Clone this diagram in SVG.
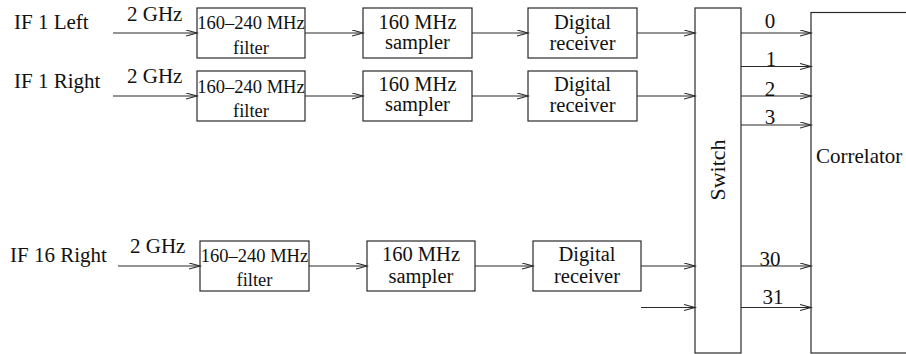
<svg xmlns="http://www.w3.org/2000/svg" width="906" height="354" viewBox="0 0 906 354">
  <style>
    .box { fill: #ffffff; stroke: #2a2a2a; stroke-width: 1.2; }
    .wire { fill: none; stroke: #2a2a2a; stroke-width: 1.2; marker-end: url(#arrow); }
    text { font-family: "Liberation Serif", "Times New Roman", serif; fill: #111; }
    .lbl { font-size: 21px; }
    .inbox { font-size: 20.5px; text-anchor: middle; }
    .small { font-size: 18.5px; text-anchor: middle; }
    .mid { text-anchor: middle; }
  </style>
  <defs>
    <marker id="arrow" markerUnits="userSpaceOnUse" markerWidth="14" markerHeight="8" refX="11" refY="3.5" orient="auto">
      <path d="M0,0.5 L11,3.5 L0,6.5" fill="none" stroke="#2a2a2a" stroke-width="1.1"/>
    </marker>
  </defs>

  <rect width="906" height="354" fill="#ffffff"/>

  <!-- input labels -->
  <g id="input-labels" class="lbl">
    <text x="14" y="29">IF 1 Left</text>
    <text x="127" y="20.5">2 GHz</text>
    <text x="14" y="88">IF 1 Right</text>
    <text x="127" y="82.5">2 GHz</text>
    <text x="10" y="262">IF 16 Right</text>
    <text x="130" y="253">2 GHz</text>
  </g>

  <!-- channel IF 1 Left -->
  <g id="filter-1l">
    <rect class="box" x="197" y="8" width="108" height="50"/>
    <text class="small" x="251" y="29">160–240 MHz</text>
    <text class="small" x="251" y="54">filter</text>
  </g>
  <g id="sampler-1l">
    <rect class="box" x="363" y="8" width="109" height="50"/>
    <text class="inbox" x="417.5" y="29">160 MHz</text>
    <text class="inbox" x="417.5" y="49">sampler</text>
  </g>
  <g id="receiver-1l">
    <rect class="box" x="528" y="8" width="109" height="50"/>
    <text class="inbox" x="582.5" y="29">Digital</text>
    <text class="inbox" x="582.5" y="50">receiver</text>
  </g>

  <!-- channel IF 1 Right -->
  <g id="filter-1r">
    <rect class="box" x="197" y="71" width="108" height="50"/>
    <text class="small" x="251" y="93">160–240 MHz</text>
    <text class="small" x="251" y="117">filter</text>
  </g>
  <g id="sampler-1r">
    <rect class="box" x="363" y="71" width="109" height="50"/>
    <text class="inbox" x="417.5" y="91">160 MHz</text>
    <text class="inbox" x="417.5" y="111">sampler</text>
  </g>
  <g id="receiver-1r">
    <rect class="box" x="528" y="71" width="109" height="50"/>
    <text class="inbox" x="582.5" y="91">Digital</text>
    <text class="inbox" x="582.5" y="112">receiver</text>
  </g>

  <!-- channel IF 16 Right -->
  <g id="filter-16r">
    <rect class="box" x="200" y="241" width="109" height="50"/>
    <text class="small" x="254.5" y="262">160–240 MHz</text>
    <text class="small" x="254.5" y="286">filter</text>
  </g>
  <g id="sampler-16r">
    <rect class="box" x="367" y="241" width="108" height="50"/>
    <text class="inbox" x="421" y="261">160 MHz</text>
    <text class="inbox" x="421" y="283">sampler</text>
  </g>
  <g id="receiver-16r">
    <rect class="box" x="533" y="241" width="108" height="50"/>
    <text class="inbox" x="587" y="261">Digital</text>
    <text class="inbox" x="587" y="283">receiver</text>
  </g>

  <!-- switch and correlator -->
  <g id="switch">
    <rect class="box" x="695" y="8" width="46" height="345"/>
    <text class="mid" font-size="22" transform="translate(725 170) rotate(-90)">Switch</text>
  </g>
  <g id="correlator">
    <rect class="box" x="811" y="12.5" width="110" height="340.5"/>
    <text class="lbl" x="816" y="163">Correlator</text>
  </g>

  <!-- connectors -->
  <g id="connectors">
    <line class="wire" x1="113" y1="33" x2="197" y2="33"/>
    <line class="wire" x1="305" y1="33" x2="363" y2="33"/>
    <line class="wire" x1="472" y1="33" x2="528" y2="33"/>
    <line class="wire" x1="637" y1="33" x2="695" y2="33"/>

    <line class="wire" x1="113" y1="96" x2="197" y2="96"/>
    <line class="wire" x1="305" y1="96" x2="363" y2="96"/>
    <line class="wire" x1="472" y1="96" x2="528" y2="96"/>
    <line class="wire" x1="637" y1="96" x2="695" y2="96"/>

    <line class="wire" x1="118" y1="266" x2="200" y2="266"/>
    <line class="wire" x1="309" y1="266" x2="367" y2="266"/>
    <line class="wire" x1="475" y1="266" x2="533" y2="266"/>
    <line class="wire" x1="641" y1="266" x2="695" y2="266"/>
    <line class="wire" x1="641" y1="307.5" x2="695" y2="307.5"/>

    <line class="wire" x1="741" y1="33" x2="811" y2="33"/>
    <line class="wire" x1="741" y1="66.5" x2="811" y2="66.5"/>
    <line class="wire" x1="741" y1="96" x2="811" y2="96"/>
    <line class="wire" x1="741" y1="125" x2="811" y2="125"/>
    <line class="wire" x1="741" y1="266" x2="811" y2="266"/>
    <line class="wire" x1="741" y1="307.5" x2="811" y2="307.5"/>
  </g>

  <!-- output channel numbers -->
  <g id="output-labels" class="lbl mid">
    <text x="770" y="28">0</text>
    <text x="771" y="66">1</text>
    <text x="770" y="95.5">2</text>
    <text x="770" y="124">3</text>
    <text x="770" y="265.5">30</text>
    <text x="773" y="304">31</text>
  </g>
</svg>
